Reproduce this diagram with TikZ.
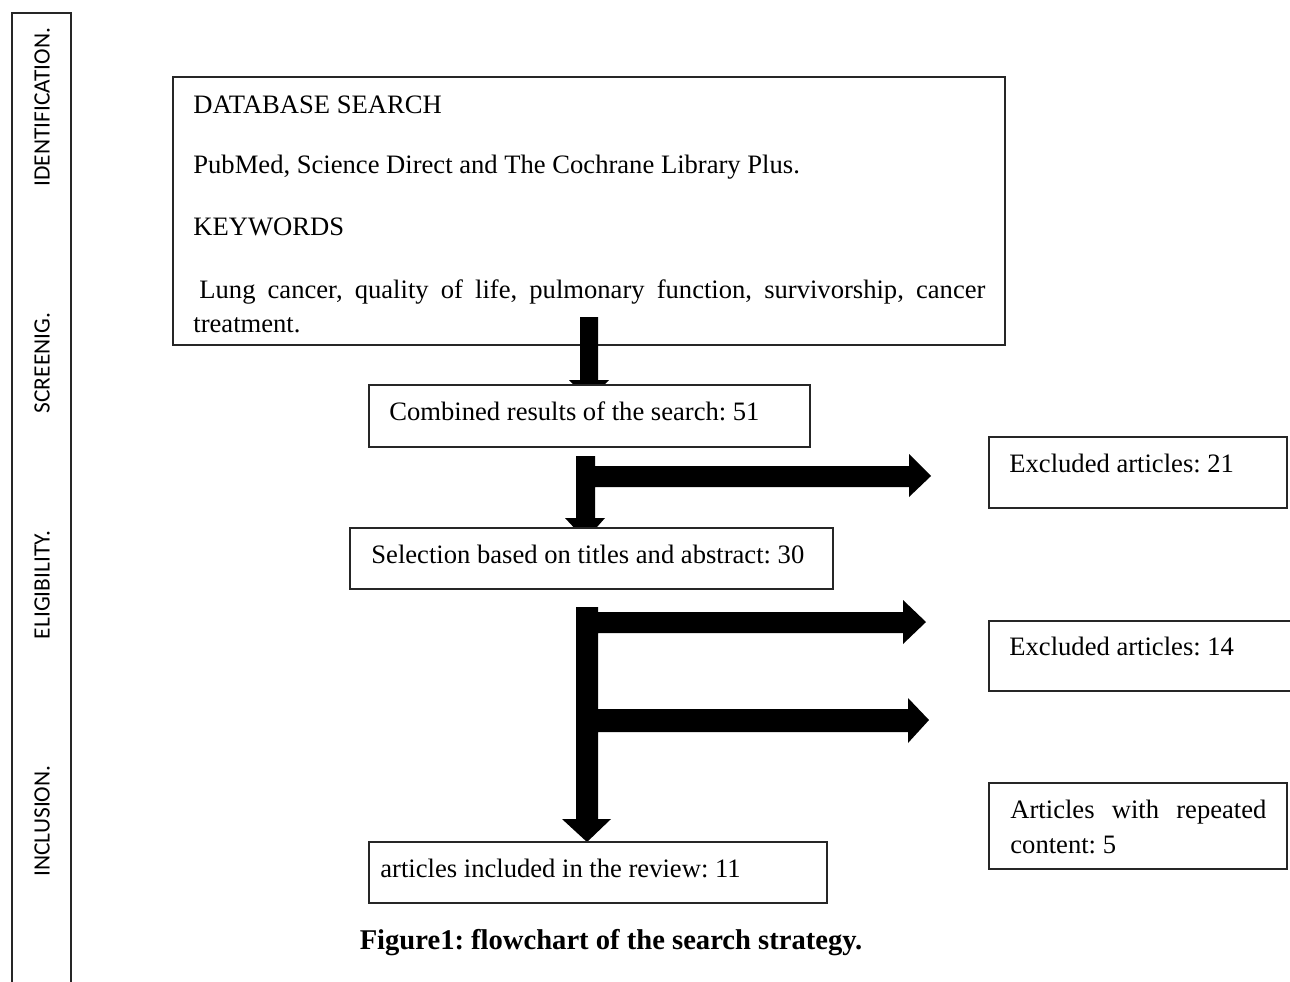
\documentclass[tikz,border=0pt]{standalone}
\usepackage{fontspec}
\setmainfont{Liberation Serif}
\newfontfamily\sidefont{Carlito}
\usetikzlibrary{fit}
\frenchspacing
\begin{document}
\begin{tikzpicture}[x=0.5pt,y=-0.5pt,
  box/.style={draw=black!85, line width=0.75pt, fill=white, inner sep=0pt},
  txt/.style={anchor=base west, inner sep=0pt, font=\fontsize{13.3}{16}\selectfont},
  side/.style={rotate=90, inner sep=0pt, font=\sidefont\fontsize{11.7}{14}\selectfont},
  blk/.style={fill=black}]
\useasboundingbox (0,0) rectangle (1290,981);

% side bar
\draw[line width=0.75pt, draw=black!85] (12,995) -- (12,13) -- (71,13) -- (71,995);
\node[side] (lid)  at (42,107) {IDENTIFICATION.};
\node[side] (lscr) at (42,363) {SCREENIG.};
\node[side] (lel)  at (42,585) {ELIGIBILITY.};
\node[side] (lin)  at (42,821) {INCLUSION.};

% main box
\node[box, fit={(173,77) (1005,345)}] (db) {};
\node[txt] (t1) at (193,113) {DATABASE SEARCH};
\node[txt] (t2) at (193,173) {PubMed, Science Direct and The Cochrane Library Plus.};
\node[txt] (t3) at (193,235) {KEYWORDS};
\node[txt] (t4) at (193,298) {\makebox[396pt][s]{\kern3pt Lung cancer, quality of life, pulmonary function, survivorship, cancer}};
\node[txt] (t5) at (193,332) {treatment.};

% block arrows
\fill[blk] (580,317) -- (598,317) -- (598,380) -- (609,380) -- (589,400) -- (569,380) -- (580,380) -- cycle;
\fill[blk] (576,456) -- (595,456) -- (595,466) -- (909,466) -- (909,454) -- (931,476) -- (909,497) -- (909,487)
  -- (595,487) -- (595,518) -- (605,518) -- (585.5,540) -- (565,518) -- (576,518) -- cycle;
\fill[blk] (576,607) -- (598,607) -- (598,612) -- (903,612) -- (903,600) -- (926,622) -- (903,644) -- (903,633)
  -- (598,633) -- (598,709) -- (908,709) -- (908,698) -- (929,720) -- (908,743) -- (908,732)
  -- (598,732) -- (598,819) -- (611,819) -- (587,842) -- (562,819) -- (576,819) -- cycle;

% boxes
\node[box, fit={(369,385) (810,447)}] (comb) {};
\node[txt] (tc) at (389,420) {Combined results of the search: 51};
\node[box, fit={(350,528) (833,589)}] (sel) {};
\node[txt] (ts) at (371,563) {Selection based on titles and abstract: 30};
\node[box, fit={(989,437) (1287,508)}] (ex1) {};
\node[txt] (te1) at (1009,472) {Excluded articles: 21};
\node[box, fit={(989,621) (1300,691)}] (ex2) {};
\node[txt] (te2) at (1009,655) {Excluded articles: 14};
\node[box, fit={(989,783) (1287,869)}] (rep) {};
\node[txt] (tr1) at (1010,818) {\makebox[128pt][s]{Articles with repeated}};
\node[txt] (tr2) at (1010,853) {content: 5};
\node[box, fit={(369,842) (827,903)}] (inc) {};
\node[txt] (ti) at (380,877) {articles included in the review: 11};

% caption
\node[anchor=base, inner sep=0pt, font=\fontsize{14.3}{17}\selectfont\bfseries] (cap) at (611,949) {Figure1: flowchart of the search strategy.};
\end{tikzpicture}
\end{document}
